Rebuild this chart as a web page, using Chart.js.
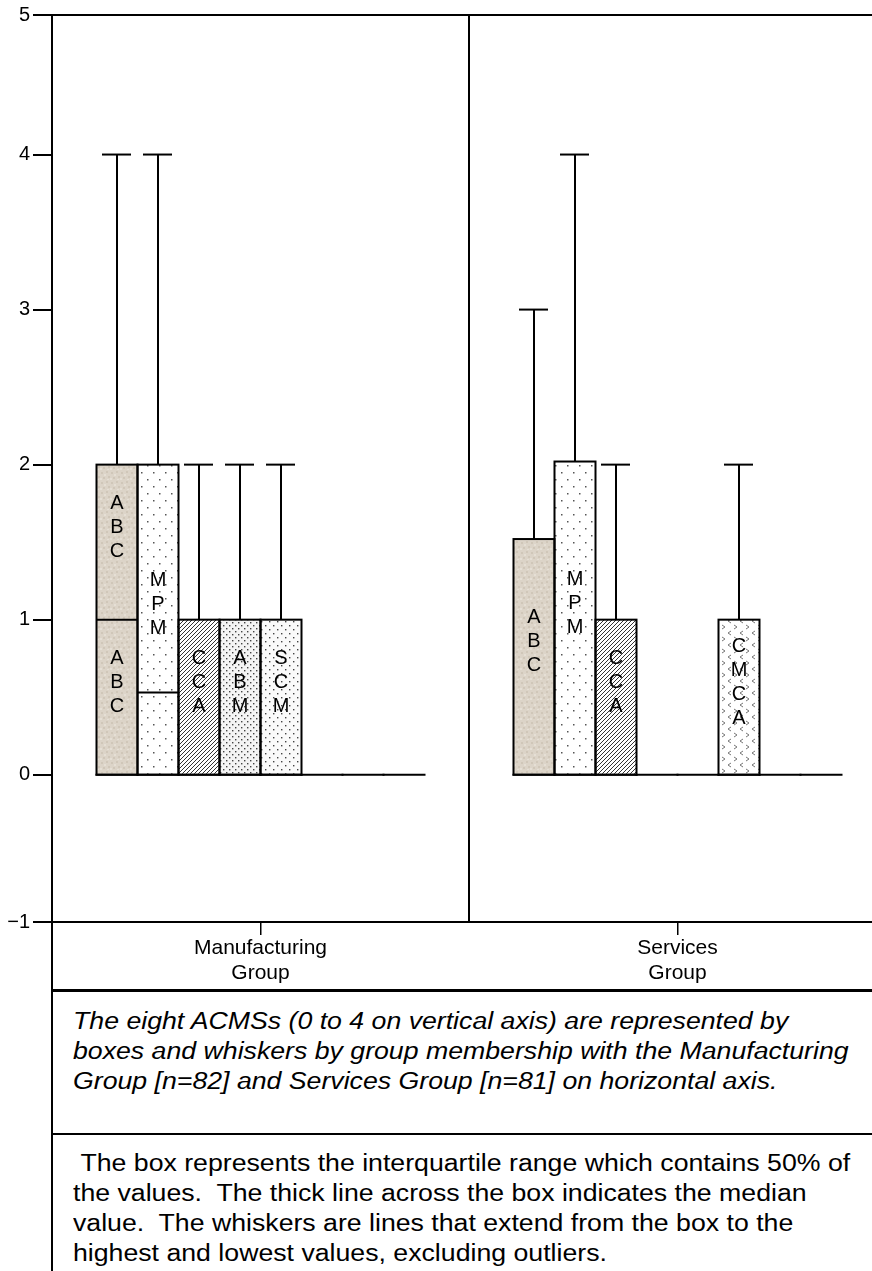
<!DOCTYPE html>
<html>
<head>
<meta charset="utf-8">
<script src="https://cdn.jsdelivr.net/npm/chart.js@4.4.1/dist/chart.umd.min.js"></script>
<style>
  html, body { margin: 0; padding: 0; background: #fff; }
  body { width: 872px; height: 1271px; position: relative; overflow: hidden;
         font-family: "Liberation Sans", Arial, sans-serif; color: #000; }
  #wrap { position: absolute; left: 0; top: 0; width: 900px; height: 995px; }
  #vline { position: absolute; left: 51px; top: 920px; width: 2px; height: 360px; background: #000; }
  .rule { position: absolute; left: 51px; right: 0; background: #000; }
  .caption { position: absolute; left: 73px; font-size: 23px; line-height: 30px;
             white-space: nowrap; transform: scaleX(1.16); transform-origin: 0 0; }
</style>
</head>
<body>
<div id="wrap"><canvas id="boxChart"></canvas></div>
<div id="vline"></div>
<div class="rule" style="top:989px;height:3px"></div>
<div class="caption" style="top:1006px;font-style:italic">The eight ACMSs (0 to 4 on vertical axis) are represented by<br>boxes and whiskers by group membership with the Manufacturing<br>Group [n=82] and Services Group [n=81] on horizontal axis.</div>
<div class="rule" style="top:1133px;height:2px"></div>
<div class="caption" style="top:1148px">&nbsp;The box represents the interquartile range which contains 50% of<br>the values.&nbsp; The thick line across the box indicates the median<br>value.&nbsp; The whiskers are lines that extend from the box to the<br>highest and lowest values, excluding outliers.</div>

<script>
/* ---------- DATA ---------- */

const groupLabels = [["Manufacturing", "Group"], ["Services", "Group"]];
const acmsNames = ["ABC", "MPM", "CCA", "ABM", "SCM", "CMCA", "ACMS7", "ACMS8"];

// tick labels; 5 and -1 sit on the frame edges, the frame spans about -0.95..4.9
const yTicks = [5, 4, 3, 2, 1, 0, -1];
const yRange = [-0.95, 4.9];

// Manufacturing Group [n=82]
const mfgMin = [0, 0, 0, 0, 0, 0, 0, 0];
const mfgQ1 = [0, 0, 0, 0, 0, 0, 0, 0];
const mfgMedian = [1, 0.53, 1, 1, 1, 0, 0, 0];
const mfgQ3 = [2, 2, 1, 1, 1, 0, 0, 0];
const mfgMax = [4, 4, 2, 2, 2, 0, 0, 0];

// Services Group [n=81]
const svcMin = [0, 0, 0, 0, 0, 0, 0, 0];
const svcQ1 = [0, 0, 0, 0, 0, 0, 0, 0];
const svcMedian = [1.52, 2.02, 1, 0, 0, 1, 0, 0];
const svcQ3 = [1.52, 2.02, 1, 0, 0, 1, 0, 0];
const svcMax = [3, 4, 2, 0, 0, 2, 0, 0];

const groupStats = [
    { min: mfgMin, q1: mfgQ1, med: mfgMedian, q3: mfgQ3, max: mfgMax },
    { min: svcMin, q1: svcQ1, med: svcMedian, q3: svcQ3, max: svcMax }
];

/* ---------- FILL PATTERNS ---------- */

function makePattern(w, h, draw) {
    const c = document.createElement("canvas");
    c.width = w;
    c.height = h;
    const g = c.getContext("2d");
    draw(g);
    return g.createPattern(c, "repeat");
}

function dots(g, color, pts, r) {
    g.fillStyle = color;
    pts.forEach(p => g.fillRect(p[0], p[1], r, r));
}

const fills = [
    // ABC: beige paper texture
    makePattern(10, 10, g => {
        g.fillStyle = "#dcd4c8";
        g.fillRect(0, 0, 10, 10);
        dots(g, "#d0c7b9", [[1, 2], [6, 1], [3, 7], [8, 6]], 2);
        dots(g, "#e5dfd5", [[4, 4], [0, 8], [7, 9]], 2);
    }),
    // MPM: sparse dots
    makePattern(12, 14, g => {
        g.fillStyle = "#fff";
        g.fillRect(0, 0, 12, 14);
        dots(g, "#555", [[3, 3], [9, 10]], 1.5);
    }),
    // CCA: dense diagonal hatch
    makePattern(4, 4, g => {
        g.fillStyle = "#fff";
        g.fillRect(0, 0, 4, 4);
        g.strokeStyle = "#333";
        g.lineWidth = 1;
        g.beginPath();
        g.moveTo(-1, 5); g.lineTo(5, -1);
        g.moveTo(-1, 1); g.lineTo(1, -1);
        g.moveTo(3, 5); g.lineTo(5, 3);
        g.stroke();
    }),
    // ABM: dense dots
    makePattern(6, 6, g => {
        g.fillStyle = "#f4f4f4";
        g.fillRect(0, 0, 6, 6);
        dots(g, "#444", [[1, 1], [4, 4]], 1.4);
    }),
    // SCM: medium dots
    makePattern(8, 8, g => {
        g.fillStyle = "#fafafa";
        g.fillRect(0, 0, 8, 8);
        dots(g, "#444", [[1, 1], [5, 5]], 1.4);
    }),
    // CMCA: little chevrons
    makePattern(12, 12, g => {
        g.fillStyle = "#fff";
        g.fillRect(0, 0, 12, 12);
        g.strokeStyle = "#777";
        g.lineWidth = 1;
        g.beginPath();
        g.moveTo(2, 1); g.lineTo(5, 3); g.lineTo(2, 5);
        g.moveTo(11, 7); g.lineTo(8, 9); g.lineTo(11, 11);
        g.stroke();
    }),
    "#fff",
    "#fff"
];

/* ---------- BOX / WHISKER OVERLAY ---------- */

function line(ctx, x1, y1, x2, y2) {
    ctx.beginPath();
    ctx.moveTo(x1, y1);
    ctx.lineTo(x2, y2);
    ctx.stroke();
}

function stackedLabel(ctx, text, cx, cy) {
    const letters = text.split("");
    const start = cy - 15 - (letters.length - 1) * 12;
    letters.forEach((ch, k) => ctx.fillText(ch, cx, start + k * 24));
}

const boxDecor = {
    id: "boxDecor",
    afterDatasetsDraw(chart) {
        const { ctx, chartArea: area, scales: { x, y } } = chart;
        ctx.save();
        ctx.strokeStyle = "#000";
        ctx.fillStyle = "#000";
        ctx.lineWidth = 2;
        ctx.font = '20px "Liberation Sans", Arial, sans-serif';
        ctx.textAlign = "center";
        ctx.textBaseline = "middle";

        // top rule and divider between the two groups
        line(ctx, area.left - 7, area.top, area.right, area.top);
        const mid = (x.getPixelForValue(0) + x.getPixelForValue(1)) / 2;
        line(ctx, mid, area.top, mid, area.bottom);

        groupStats.forEach((s, g) => {
            acmsNames.forEach((name, i) => {
                const bar = chart.getDatasetMeta(i).data[g];
                const cx = bar.x;
                const left = cx - bar.width / 2;
                const right = cx + bar.width / 2;
                const yQ1 = y.getPixelForValue(s.q1[i]);
                const yQ3 = y.getPixelForValue(s.q3[i]);
                const yMed = y.getPixelForValue(s.med[i]);

                // lowest value line (boxes that collapse to zero show only this)
                line(ctx, left - 1, y.getPixelForValue(s.min[i]), right + 1, y.getPixelForValue(s.min[i]));

                if (s.q3[i] > s.q1[i]) {
                    ctx.strokeRect(left, yQ3, bar.width, yQ1 - yQ3);
                }
                if (s.med[i] > s.q1[i] && s.med[i] < s.q3[i]) {
                    line(ctx, left, yMed, right, yMed);
                }
                if (s.max[i] > s.q3[i]) {
                    const yMax = y.getPixelForValue(s.max[i]);
                    line(ctx, cx, yQ3, cx, yMax);
                    line(ctx, cx - 15, yMax, cx + 14, yMax);
                }
                if (s.min[i] < s.q1[i]) {
                    const yMin = y.getPixelForValue(s.min[i]);
                    line(ctx, cx, yQ1, cx, yMin);
                    line(ctx, cx - 15, yMin, cx + 14, yMin);
                }

                // stacked letters inside the box
                if (s.q3[i] > s.q1[i]) {
                    const lower = s.med[i] - s.q1[i];
                    const upper = s.q3[i] - s.med[i];
                    if (lower >= 1 && upper >= 1) {
                        stackedLabel(ctx, name, cx, (yQ3 + yMed) / 2);
                        stackedLabel(ctx, name, cx, (yMed + yQ1) / 2);
                    } else {
                        stackedLabel(ctx, name, cx, (yQ3 + yQ1) / 2);
                    }
                }
            });
        });
        ctx.restore();
    }
};

/* ---------- CHART ---------- */

Chart.defaults.font.family = '"Liberation Sans", Arial, sans-serif';
Chart.defaults.color = "#000";

const datasets = acmsNames.map((name, i) => ({
    label: name,
    data: groupStats.map(s => [s.q1[i], s.q3[i]]),
    backgroundColor: fills[i],
    borderWidth: 0,
    categoryPercentage: 328 / 417,
    barPercentage: 1
}));

new Chart(document.getElementById("boxChart"), {
    type: "bar",
    data: { labels: groupLabels, datasets },
    options: {
        responsive: true,
        maintainAspectRatio: false,
        devicePixelRatio: 1,
        animation: false,
        layout: { padding: { top: 15, right: 14, left: 0, bottom: 0 } },
        plugins: { legend: { display: false }, tooltip: { enabled: false } },
        scales: {
            x: {
                afterFit: s => { s.height = 73; },
                grid: { offset: false, drawOnChartArea: false, tickLength: 13, color: "#000", lineWidth: 1.5 },
                border: { display: true, color: "#000", width: 2 },
                ticks: { font: { size: 21, lineHeight: 1.19 }, padding: 1, color: "#000", maxRotation: 0 }
            },
            y: {
                min: yRange[0],
                max: yRange[1],
                afterFit: s => { s.width = 52; },
                afterBuildTicks: s => {
                    s.ticks = yTicks.map(v => ({ value: Math.min(Math.max(v, s.min), s.max) }));
                },
                grid: { drawOnChartArea: false, tickLength: 19, color: "#000", lineWidth: 2 },
                border: { display: true, color: "#000", width: 2 },
                ticks: {
                    font: { size: 20 },
                    padding: 3,
                    color: "#000",
                    callback: (v, i) => (yTicks[i] < 0 ? "\u2212" + Math.abs(yTicks[i]) : String(yTicks[i]))
                }
            }
        }
    },
    plugins: [boxDecor]
});
</script>
</body>
</html>
